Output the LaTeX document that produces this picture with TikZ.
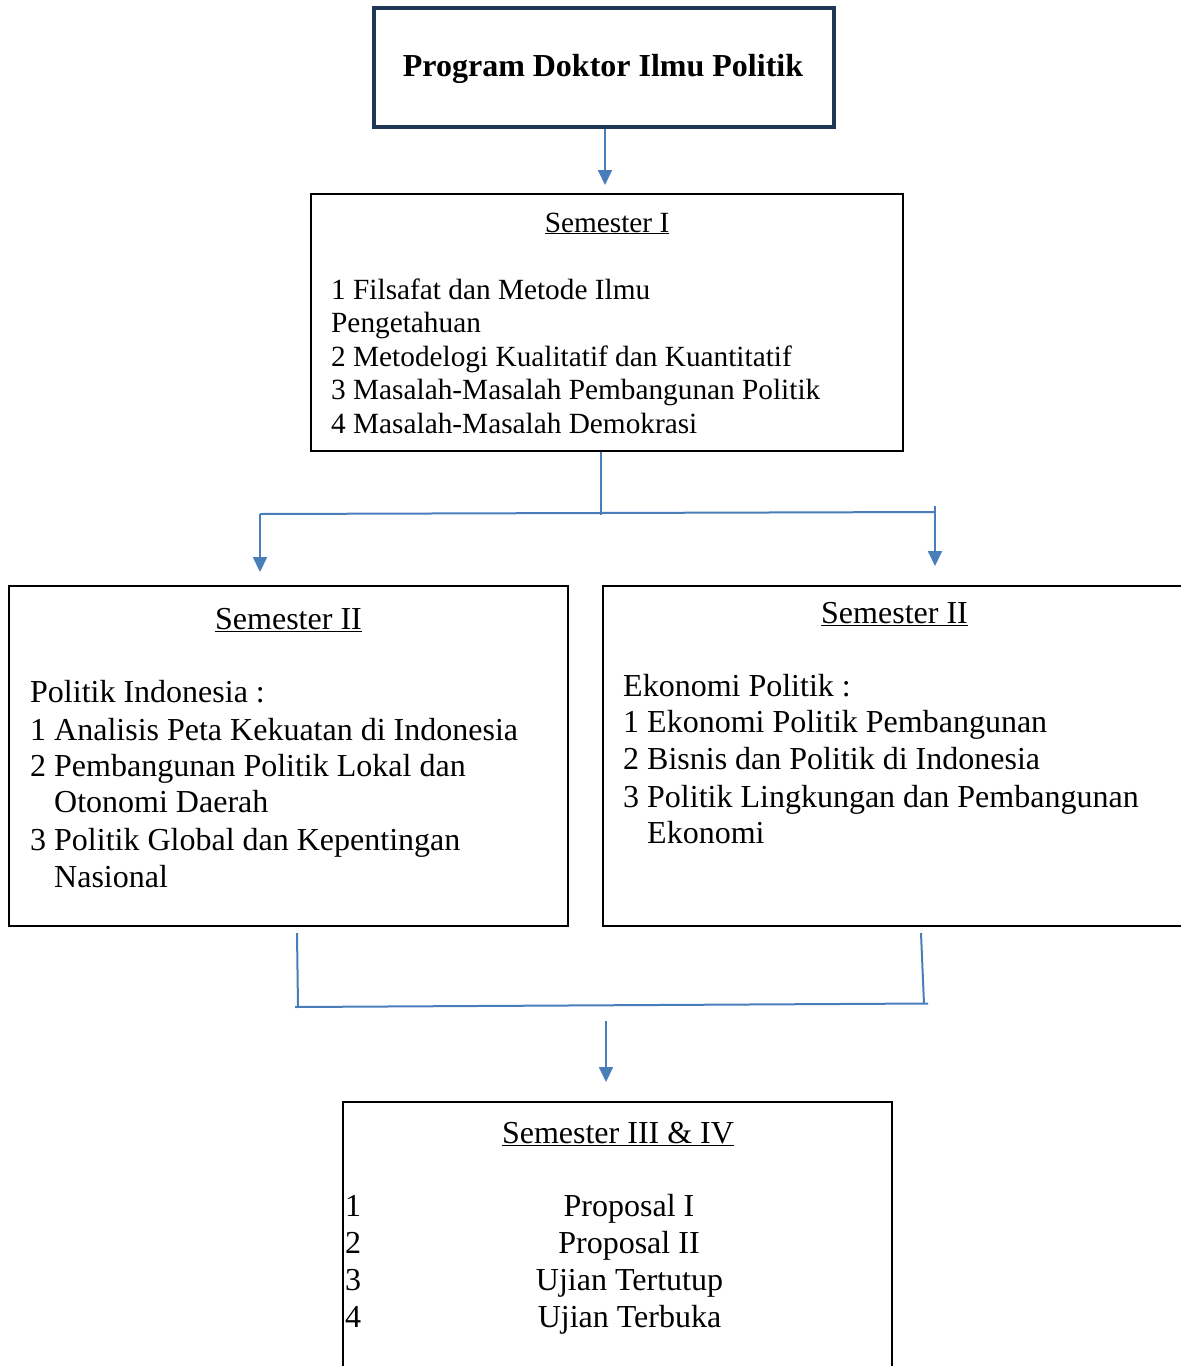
\documentclass[tikz,border=0pt]{standalone}
\usepackage{fontspec}
\setmainfont{Liberation Serif}
\usetikzlibrary{arrows.meta}
\definecolor{navy}{HTML}{1F3654}
\definecolor{lblue}{HTML}{4A7EBB}
\begin{document}
\begin{tikzpicture}[x=1pt,y=-1pt,
  box/.style={draw=black, line width=1.8pt, inner sep=0pt},
  conn/.style={draw=lblue, line width=2pt},
  arr/.style={conn, -{Triangle[width=14pt,length=15pt]}},
  big/.style={inner sep=0pt, font=\fontsize{32}{37}\selectfont},
  small/.style={inner sep=0pt, font=\fontsize{29.3}{34}\selectfont},
  lt/.style={big, anchor=base west},
  ct/.style={big, anchor=base},
  slt/.style={small, anchor=base west},
  sct/.style={small, anchor=base}]
\useasboundingbox (0,0) rectangle (1181,1366);
\clip (0,0) rectangle (1181,1366);
\fill[white] (0,0) rectangle (1181,1366);

% boxes
\node[draw=navy, line width=4.5pt, inner sep=0pt, minimum width=460pt, minimum height=119pt] (title) at (604,67.5) {};
\node[box, minimum width=592pt, minimum height=257pt] (s1) at (607,322.5) {};
\node[box, minimum width=559pt, minimum height=340pt] (s2l) at (288.5,756) {};
\node[box, minimum width=587pt, minimum height=340pt] (s2r) at (896.5,756) {};
\node[box, minimum width=549pt, minimum height=273pt] (s3) at (617.5,1238.5) {};

% texts
\node[big, anchor=base, font=\fontsize{32}{37}\selectfont\bfseries] (tt) at (603,76.5) {Program Doktor Ilmu Politik};

\node[sct] (s1h) at (607,232) {\underline{Semester I}};
\node[slt] (s1a) at (331,299.5) {1 Filsafat dan Metode Ilmu};
\node[slt] (s1b) at (331,332.5) {Pengetahuan};
\node[slt] (s1c) at (331,366.5) {2 Metodelogi Kualitatif dan Kuantitatif};
\node[slt] (s1d) at (331,399.5) {3 Masalah-Masalah Pembangunan Politik};
\node[slt] (s1e) at (331,433.5) {4 Masalah-Masalah Demokrasi};

\node[ct] (s2lh) at (288.5,629.5) {\underline{Semester II}};
\node[lt] (s2la) at (30,702.5) {Politik Indonesia :};
\node[lt] (s2lb) at (30,740.5) {1 Analisis Peta Kekuatan di Indonesia};
\node[lt] (s2lc) at (30,776.5) {2 Pembangunan Politik Lokal dan};
\node[lt] (s2ld) at (54,812.5) {Otonomi Daerah};
\node[lt] (s2le) at (30,850.5) {3 Politik Global dan Kepentingan};
\node[lt] (s2lf) at (54,887.5) {Nasional};

\node[ct] (s2rh) at (894.5,623.5) {\underline{Semester II}};
\node[lt] (s2ra) at (623,696.5) {Ekonomi Politik :};
\node[lt] (s2rb) at (623,732.5) {1 Ekonomi Politik Pembangunan};
\node[lt] (s2rc) at (623,769.5) {2 Bisnis dan Politik di Indonesia};
\node[lt] (s2rd) at (623,807.5) {3 Politik Lingkungan dan Pembangunan};
\node[lt] (s2re) at (647,843.5) {Ekonomi};

\node[ct] (s3h) at (618,1143.5) {\underline{Semester III \& IV}};
\node[lt] (n1) at (345,1216.5) {1};
\node[lt] (n2) at (345,1253.5) {2};
\node[lt] (n3) at (345,1290.5) {3};
\node[lt] (n4) at (345,1327.5) {4};
\node[ct] (i1) at (629,1216.5) {Proposal I};
\node[ct] (i2) at (629,1253.5) {Proposal II};
\node[ct] (i3) at (629.5,1290.5) {Ujian Tertutup};
\node[ct] (i4) at (629.5,1327.5) {Ujian Terbuka};

% connector coordinates
\coordinate (a1end) at (605,185);
\coordinate (j1) at (601,515);
\coordinate (jl) at (260,514);
\coordinate (jr) at (935,512);
\coordinate (jrtop) at (935,506);
\coordinate (al) at (260,572);
\coordinate (ar) at (935,566);
\coordinate (bl0) at (297,933);
\coordinate (bl) at (298,1007);
\coordinate (br0) at (921,933);
\coordinate (br) at (924,1004);
\coordinate (blx) at (295,1007);
\coordinate (brx) at (928,1003.5);
\coordinate (m0) at (606,1021);
\coordinate (m1) at (606,1082);

% connectors
\draw[arr] ([xshift=1pt]title.south) -- (a1end);
\draw[conn] ([xshift=-6pt]s1.south) -- (j1);
\draw[conn] (jl) -- (jr);
\draw[arr] (jl) -- (al);
\draw[arr] (jrtop) -- (ar);
\draw[conn] (bl0) -- (bl);
\draw[conn] (br0) -- (br);
\draw[conn] (blx) -- (brx);
\draw[arr] (m0) -- (m1);
\end{tikzpicture}
\end{document}
